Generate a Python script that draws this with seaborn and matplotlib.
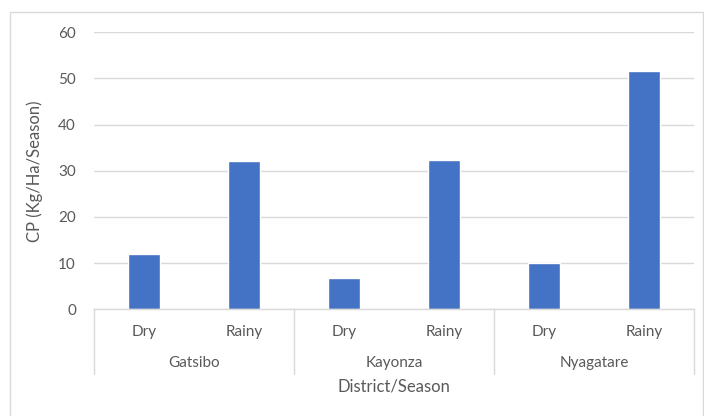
import numpy as np
import pandas as pd
import matplotlib
matplotlib.use("Agg")
import matplotlib.pyplot as plt
import matplotlib.transforms as mtransforms
from matplotlib.patches import Rectangle
from matplotlib.lines import Line2D
import seaborn as sns

# data
districts = ["Gatsibo", "Gatsibo", "Kayonza", "Kayonza", "Nyagatare", "Nyagatare"]
seasons = ["Dry", "Rainy", "Dry", "Rainy", "Dry", "Rainy"]
cp_values = [12.0, 32.1, 6.8, 32.3, 10.0, 51.6]
y_ticks = [0, 10, 20, 30, 40, 50, 60]

df = pd.DataFrame({"district": districts, "season": seasons, "cp": cp_values})
df["cat"] = df["district"] + "-" + df["season"]

sns.set_theme(style="white")
plt.rcParams["font.family"] = ["Lato", "DejaVu Sans"]
text_col = "#595959"
line_col = "#d9d9d9"

fig = plt.figure(figsize=(7.04, 4.16), dpi=100)
ax = fig.add_axes([94 / 704, 1 - 309.3 / 416, 600 / 704, 277 / 416])

sns.barplot(data=df, x="cat", y="cp", order=list(df["cat"]), color="#4472c4",
            saturation=1, width=0.32, ax=ax)

ax.set_ylim(0, 60)
ax.set_xlim(-0.5, 5.5)
ax.set_yticks(y_ticks)
ax.yaxis.grid(True, color=line_col, linewidth=1)
ax.set_axisbelow(True)
for s in ["top", "right", "left"]:
    ax.spines[s].set_visible(False)
ax.spines["bottom"].set_color(line_col)
ax.spines["bottom"].set_linewidth(1)
ax.tick_params(axis="y", length=0, pad=13, labelsize=11, labelcolor=text_col)
ax.tick_params(axis="x", length=0, pad=11, labelsize=11, labelcolor=text_col)
ax.set_xticks(range(len(seasons)))
ax.set_xticklabels(seasons)
ax.set_xlabel("")
ax.set_ylabel("CP (Kg/Ha/Season)", fontsize=12, color=text_col, labelpad=11)

# multi-level category axis: district labels and separators
trans = mtransforms.blended_transform_factory(ax.transData, ax.transAxes)
px = 1 / 277  # one pixel in axes units (vertical)
for i, name in enumerate(["Gatsibo", "Kayonza", "Nyagatare"]):
    ax.text(2 * i + 0.5, -54 * px, name, transform=trans, ha="center", va="center",
            fontsize=11, color=text_col, clip_on=False)
for xb in [-0.5, 1.5, 3.5, 5.5]:
    ax.add_line(Line2D([xb, xb], [0, -65 * px], transform=trans, color=line_col,
                       linewidth=1, clip_on=False))
ax.text(2.5, -77 * px, "District/Season", transform=trans, ha="center", va="center",
        fontsize=12, color=text_col, clip_on=False)

# chart frame
fig.patches.append(Rectangle((10 / 704, -0.05), 693 / 704, 1 - 12 / 416 + 0.05,
                             transform=fig.transFigure, fill=False,
                             edgecolor=line_col, linewidth=1))

fig.savefig("out.png", dpi=100)
